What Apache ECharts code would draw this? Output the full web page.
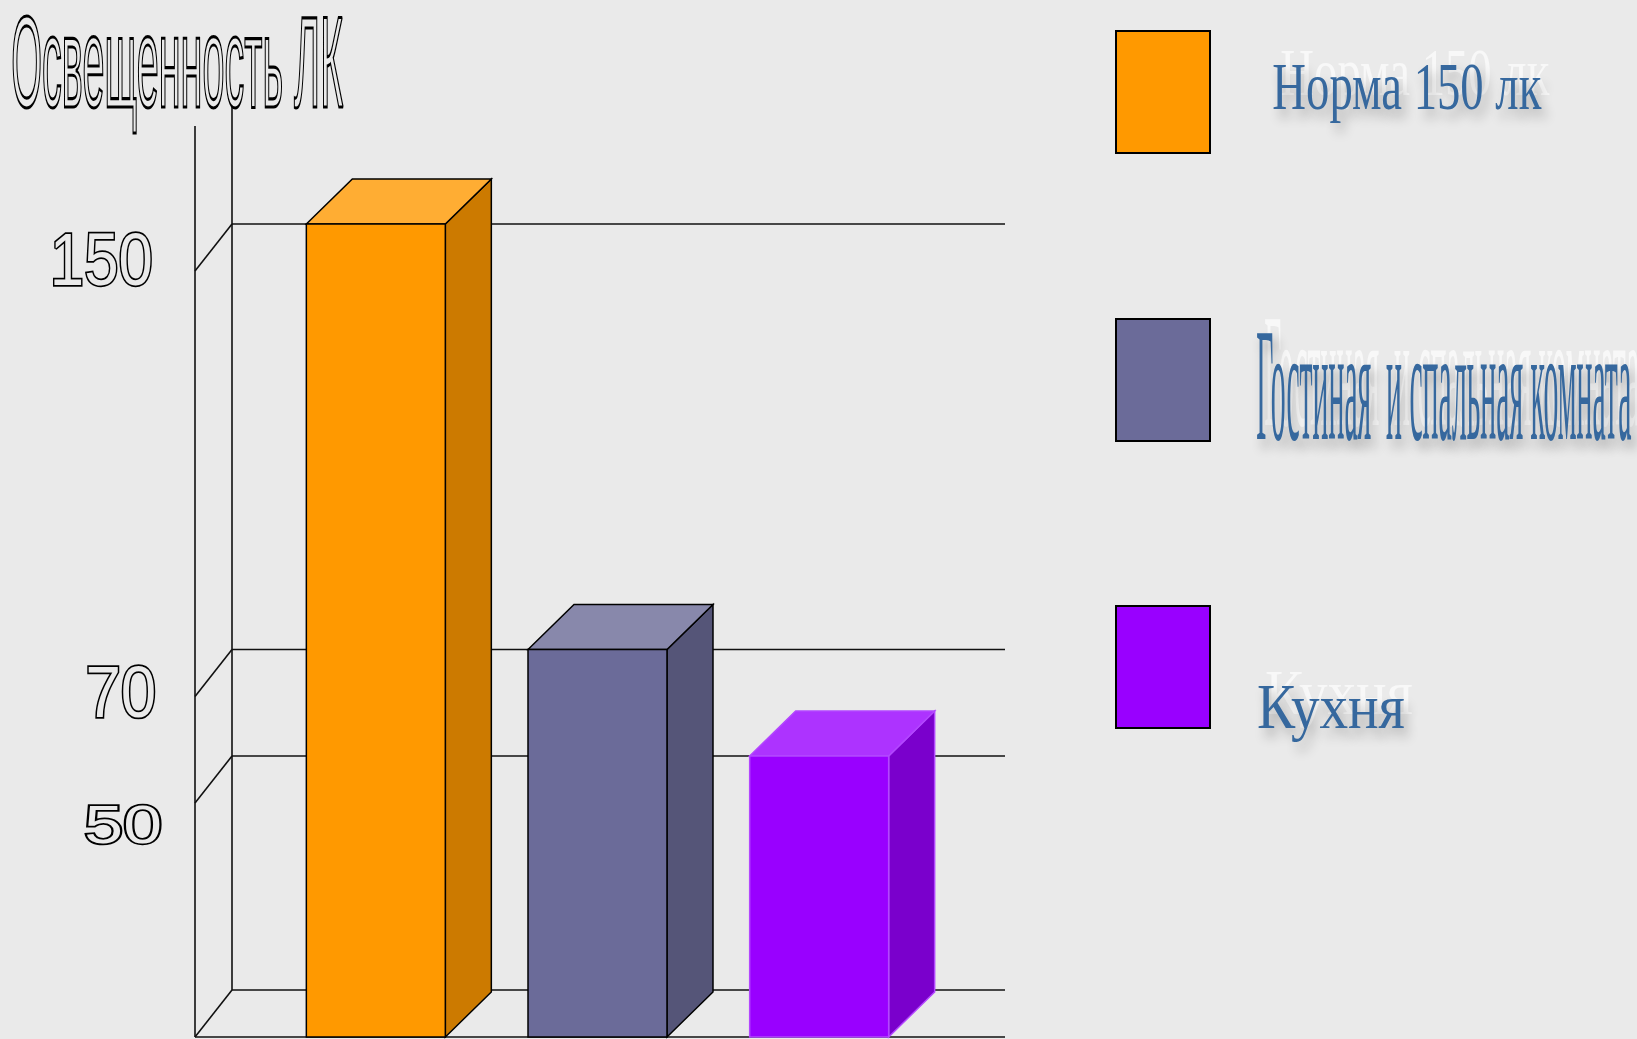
<!DOCTYPE html>
<html><head><meta charset="utf-8">
<script src="https://cdn.jsdelivr.net/npm/echarts@6/dist/echarts.min.js"></script>
<style>html,body{margin:0;padding:0;background:#eaeaea}#c{width:1637px;height:1039px}</style>
</head><body><div id="c"></div>
<script>
// ---- data ----
const categories = ['Норма 150 лк', 'Гостиная  и спальная комната', 'Кухня'];
const values = [150, 70, 50];
const gridValues = [50, 70, 150];
const tickLabels = ['50', '70', '150'];
const axisTitle = 'Освещенность ЛК';

// ---- style / layout ----
const frontColors = ['#ff9900', '#6b6b99', '#9900ff'];
const topColors = ['#ffad33', '#8888ab', '#ad33ff'];
const sideColors = ['#cc7a00', '#555578', '#7a00cc'];
const edgeColors = ['#000000', '#000000', '#b347ff'];
const WALL = { frontOffset: 70, dx: 37, dy: 47, rightExt: 75 };
const BAR = { ratio: 0.627, dx: 46, dy: 45 };
const TICKSTYLE = [
  { dy: 25, right: 160, size: 53, width: 73, family: "'Liberation Sans', Arial, sans-serif" },
  { dy: 0, right: 154, size: 73, width: 66, family: "'Liberation Sans', Arial, sans-serif" },
  { dy: -6, right: 151, size: 74, width: 97, family: "'Liberation Sans', Arial, sans-serif" }
];
const LEG = {
  rectX: 1116, rectW: 94, rectH: 122, rectTops: [31, 319, 606],
  text: [
    { l: 1273, r: 1542, capTop: 66, base: 111, adj: 3 },
    { l: 1257, r: 1631, capTop: 334, base: 441, adj: 9 },
    { l: 1258, r: 1404, capTop: 689, base: 731, adj: 1 }
  ]
};
const TITLE = { l: 13, r: 343, capTop: 15, base: 108, adj: 10 };

const mctx = document.createElement('canvas').getContext('2d');
function fit(text, family, capRatio, t) {
  const F = Math.round((t.base - t.capTop) / capRatio);
  const font = F + 'px ' + family;
  mctx.font = font;
  const m = mctx.measureText(text);
  const ink = m.actualBoundingBoxLeft + m.actualBoundingBoxRight;
  const sx = (t.r - t.l) / ink;
  return { font, sx, x: t.l + m.actualBoundingBoxLeft * sx, y: (t.capTop + t.base) / 2 + (t.adj || 0) };
}
function inkScale(text, font, width) {
  mctx.font = font;
  const m = mctx.measureText(text);
  return { sx: width / (m.actualBoundingBoxLeft + m.actualBoundingBoxRight), rb: m.width - m.actualBoundingBoxRight };
}

const chart = echarts.init(document.getElementById('c'), null, { renderer: 'canvas' });
const lineStyle = { stroke: '#111', lineWidth: 1.6 };

function renderFrame(params, api) {
  const rect = params.coordSys;
  const yF = rect.y + rect.height;
  const xF = rect.x - WALL.frontOffset;
  const xB = xF + WALL.dx;
  const xR = rect.x + rect.width + WALL.rightExt;
  const yB = yF - WALL.dy;
  return { type: 'group', children: [
    { type: 'line', shape: { x1: xF, y1: yF, x2: xB, y2: yB }, style: lineStyle },
    { type: 'line', shape: { x1: xB, y1: yB, x2: xR, y2: yB }, style: lineStyle },
    { type: 'line', shape: { x1: xF, y1: rect.y + 4, x2: xF, y2: yF }, style: lineStyle },
    { type: 'line', shape: { x1: xB, y1: rect.y - 15, x2: xB, y2: yB }, style: lineStyle },
    { type: 'line', shape: { x1: xF, y1: yF, x2: xR, y2: yF }, style: lineStyle }
  ] };
}

function renderGrid(params, api) {
  const v = api.value(1);
  const k = params.dataIndex;
  const rect = params.coordSys;
  const yF = api.coord([0, v])[1];
  const xF = rect.x - WALL.frontOffset;
  const xB = xF + WALL.dx;
  const xR = rect.x + rect.width + WALL.rightExt;
  const yB = yF - WALL.dy;
  const ts = TICKSTYLE[k];
  const font = ts.size + 'px ' + ts.family;
  const txt = tickLabels[k];
  const sc = inkScale(txt, font, ts.width);
  return { type: 'group', children: [
    { type: 'line', shape: { x1: xF, y1: yF, x2: xB, y2: yB }, style: lineStyle },
    { type: 'line', shape: { x1: xB, y1: yB, x2: xR, y2: yB }, style: lineStyle },
    { type: 'text', x: ts.right + sc.rb * sc.sx, y: yF + ts.dy, scaleX: sc.sx,
      style: { text: txt, font: font, fill: '#eaeaea', stroke: '#000', lineWidth: 3.5,
        align: 'right', verticalAlign: 'middle' } }
  ] };
}

function renderBar(params, api) {
  const i = api.value(0), v = api.value(1);
  const rect = params.coordSys;
  const top = api.coord([i, v]);
  const bw = api.size([1, 0])[0] * BAR.ratio;
  const x0 = top[0] - bw / 2, x1 = top[0] + bw / 2;
  const yT = top[1] - WALL.dy, yB = rect.y + rect.height;
  const dx = BAR.dx, dy = BAR.dy;
  const idx = params.dataIndex;
  const edge = { stroke: edgeColors[idx], lineWidth: 1.5, lineJoin: 'miter' };
  return {
    type: 'group',
    children: [
      { type: 'polygon', shape: { points: [[x1, yT], [x1 + dx, yT - dy], [x1 + dx, yB - dy], [x1, yB]] },
        style: Object.assign({ fill: sideColors[idx] }, edge) },
      { type: 'polygon', shape: { points: [[x0, yT], [x0 + dx, yT - dy], [x1 + dx, yT - dy], [x1, yT]] },
        style: Object.assign({ fill: topColors[idx] }, edge) },
      { type: 'polygon', shape: { points: [[x0, yT], [x1, yT], [x1, yB], [x0, yB]] },
        style: Object.assign({ fill: frontColors[idx] }, edge) }
    ]
  };
}

const graphic = [];
const tf = fit(axisTitle, "'Liberation Sans', Arial, sans-serif", 0.716, TITLE);
graphic.push({
  type: 'text', x: tf.x, y: tf.y, scaleX: tf.sx, z: 100,
  style: { text: axisTitle, font: tf.font, fill: '#eaeaea', align: 'left', verticalAlign: 'middle' }
});
graphic.push({
  type: 'text', x: tf.x, y: tf.y, scaleX: tf.sx, z: 101,
  style: { text: axisTitle, font: tf.font, fill: 'rgba(0,0,0,0)', stroke: '#000', lineWidth: 3.2,
    align: 'left', verticalAlign: 'middle' }
});
categories.forEach((name, k) => {
  graphic.push({
    type: 'rect', z: 100,
    shape: { x: LEG.rectX, y: LEG.rectTops[k], width: LEG.rectW, height: LEG.rectH },
    style: { fill: frontColors[k], stroke: '#000', lineWidth: 2 }
  });
  const f = fit(name, "'Liberation Serif', 'Times New Roman', serif", 0.662, LEG.text[k]);
  graphic.push({
    type: 'text', x: f.x + 8, y: f.y - 14, scaleX: f.sx, z: 99,
    style: { text: name, font: f.font, fill: 'rgba(255,255,255,0.65)', align: 'left', verticalAlign: 'middle' }
  });
  graphic.push({
    type: 'text', x: f.x, y: f.y, scaleX: f.sx, z: 100,
    style: { text: name, font: f.font, fill: '#36689e', align: 'left', verticalAlign: 'middle',
      textShadowColor: 'rgba(0,0,0,0.3)', textShadowBlur: 12, textShadowOffsetX: 5, textShadowOffsetY: 8,
      shadowColor: 'rgba(0,0,0,0.3)', shadowBlur: 12, shadowOffsetX: 5, shadowOffsetY: 8 }
  });
});

chart.setOption({
  backgroundColor: '#eaeaea',
  animation: false,
  grid: { left: 265, right: 707, top: 122, bottom: 2, containLabel: false, outerBoundsMode: 'none' },
  xAxis: { type: 'category', data: categories, show: false },
  yAxis: { type: 'value', min: 6, max: 178, show: false },
  graphic: graphic,
  series: [
    { type: 'custom', z: 1, renderItem: renderFrame, data: [[0, 6]], encode: { x: 0, y: 1 }, silent: true },
    { type: 'custom', z: 1, renderItem: renderGrid, data: gridValues.map(v => [0, v]), encode: { x: 0, y: 1 }, silent: true },
    { type: 'custom', z: 2, renderItem: renderBar, data: values.map((v, i) => [i, v]), encode: { x: 0, y: 1 } }
  ]
});
</script></body></html>
